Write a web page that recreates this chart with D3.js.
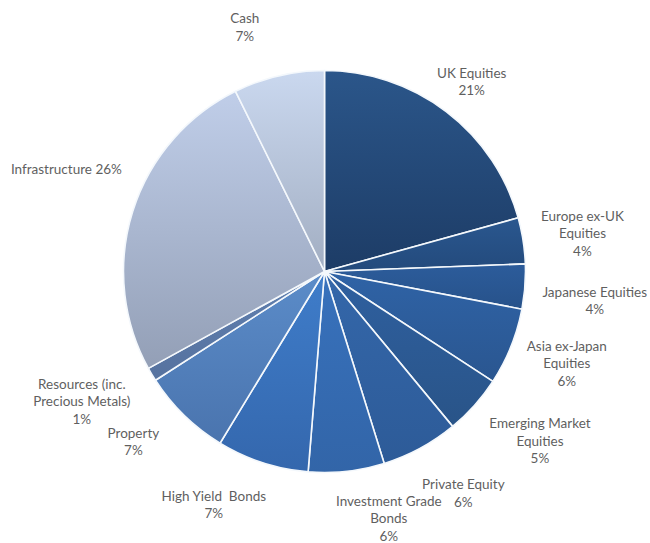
<!DOCTYPE html>
<html>
<head>
<meta charset="utf-8">
<script src="https://cdn.jsdelivr.net/npm/d3@7"></script>
<style>
  body { margin: 0; background: #fff; }
</style>
</head>
<body>
<script>
// Asset allocation pie

var categories = [
    "UK Equities",
    "Europe ex-UK\nEquities",
    "Japanese Equities",
    "Asia ex-Japan\nEquities",
    "Emerging Market\nEquities",
    "Private Equity",
    "Investment Grade\nBonds",
    "High Yield\u00a0 Bonds",
    "Property",
    "Resources (inc.\nPrecious Metals)",
    "Infrastructure",
    "Cash"
];
var values = [20.7, 3.7, 3.6, 6.2, 4.8, 6.2, 6.1, 7.4, 7.2, 1.1, 25.7, 7.3];
var pctLabels = ["21%", "4%", "4%", "6%", "5%", "6%", "6%", "7%", "7%", "1%", "26%", "7%"];

// gradient top / bottom per slice
var palette = [
    ["#2b568a", "#1d3c66"],
    ["#2a578f", "#234a7c"],
    ["#2c5c9b", "#27528a"],
    ["#2f63a6", "#2a5690"],
    ["#2f60a0", "#295488"],
    ["#3467aa", "#2d5b98"],
    ["#3872bd", "#3265a8"],
    ["#3f7dca", "#3467ad"],
    ["#5b8cc9", "#4a74ae"],
    ["#6080b0", "#56729f"],
    ["#c0cee9", "#939fb6"],
    ["#cad8ef", "#a2aec2"]
];

// small hand nudges for the data labels, like the original layout
var nudge = [[-9, 16], [3, 2], [13, 10], [3, -4], [23, -2], [16, -5],
    [36, -9], [-31, -12], [-11, -14], [-21, -2], [-12, -25], [-21, 7]];

var width = 650,
    height = 543,
    cx = 324.5,
    cy = 271.5,
    radius = 201,
    labelR = 258,
    lineH = 17.5;

var data = categories.map((c, i) => ({ name: c, value: values[i], pct: pctLabels[i], i: i }));

var svg = d3.select(document.body).append("svg")
    .attr("width", width)
    .attr("height", height);

var defs = svg.append("defs");
palette.forEach((p, i) => {
    var g = defs.append("linearGradient")
        .attr("id", "grad" + i)
        .attr("x1", 0).attr("y1", 0)
        .attr("x2", 0).attr("y2", 1);
    g.append("stop").attr("offset", "0%").attr("stop-color", p[0]);
    g.append("stop").attr("offset", "100%").attr("stop-color", p[1]);
});

var pie = d3.pie()
    .sort(null)
    .value((d) => d.value);

var arc = d3.arc()
    .innerRadius(0)
    .outerRadius(radius);

var arcs = pie(data);

var g = svg.append("g")
    .attr("transform", "translate(" + cx + "," + cy + ")");

g.selectAll("path")
    .data(arcs)
    .join("path")
    .attr("d", arc)
    .attr("fill", (d) => "url(#grad" + d.data.i + ")")
    .attr("stroke", "#f4f8fc")
    .attr("stroke-width", 1.6)
    .attr("stroke-linejoin", "round");

// labels
var labels = g.append("g")
    .attr("font-family", "Lato, 'Open Sans', sans-serif")
    .attr("font-size", 13.5)
    .attr("fill", "#5f5f5f")
    .attr("text-anchor", "middle")
    .selectAll("text")
    .data(arcs)
    .join("text")
    .each(function (d) {
        var lines = d.data.name.split("\n");
        if (d.data.name == "Infrastructure") {
            lines = [d.data.name + " " + d.data.pct];
        } else {
            lines.push(d.data.pct);
        }
        var a = (d.startAngle + d.endAngle) / 2;
        var n = nudge[d.data.i];
        var x = labelR * Math.sin(a) + n[0];
        var y = -labelR * Math.cos(a) + n[1];
        var y0 = y - (lines.length - 1) * lineH / 2 + 4.5;
        var t = d3.select(this);
        lines.forEach((l, k) => {
            t.append("tspan")
                .attr("x", x)
                .attr("y", y0 + k * lineH)
                .text(l);
        });
    });
</script>
</body>
</html>
